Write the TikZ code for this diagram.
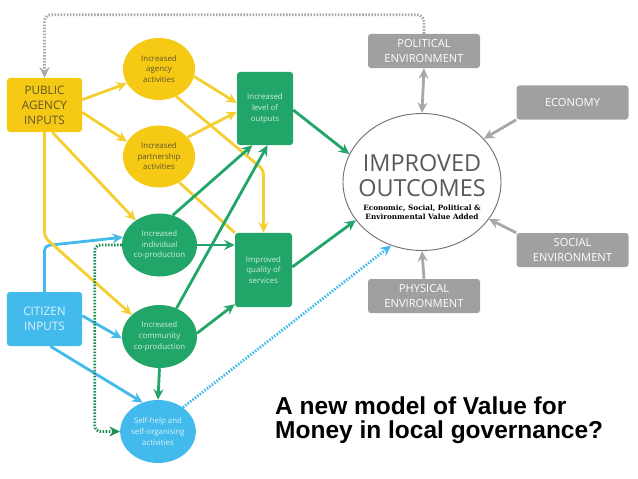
\documentclass[tikz,border=0pt]{standalone}
\usepackage{fontspec}
\setmainfont{Open Sans}
\newfontfamily\titlefont{Liberation Sans}
\newfontfamily\notefont{DejaVu Serif}
\usetikzlibrary{arrows.meta,calc,shapes.geometric}

\definecolor{pubyellow}{RGB}{246,201,20}
\definecolor{linkyellow}{RGB}{245,207,50}
\definecolor{pubtext}{RGB}{95,85,45}
\definecolor{outgreen}{RGB}{34,165,105}
\definecolor{dotgreen}{RGB}{30,140,85}
\definecolor{paletext}{RGB}{205,238,220}
\definecolor{citblue}{RGB}{66,186,235}
\definecolor{citext}{RGB}{220,242,250}
\definecolor{envgray}{RGB}{160,160,160}
\definecolor{linkgray}{RGB}{168,168,168}

\begin{document}
\begin{tikzpicture}[x=0.03cm, y=-0.03cm,
    every node/.style={inner sep=0pt, align=center},
    >={Stealth[length=9pt, width=8.5pt, inset=3pt]},
    inbox/.style={rectangle, rounded corners=2.5pt, minimum width=2.25cm, minimum height=1.62cm, font=\fontsize{10}{12.8}\selectfont},
    actnode/.style={ellipse, minimum width=2.16cm, minimum height=1.86cm, font=\fontsize{6.7}{9}\selectfont},
    resbox/.style={rectangle, rounded corners=2.5pt, fill=outgreen, text=paletext, minimum width=1.68cm, minimum height=2.19cm, font=\fontsize{6.7}{9}\selectfont},
    envbox/.style={rectangle, rounded corners=2.5pt, fill=envgray, text=white, minimum width=3.36cm, minimum height=1.02cm, font=\fontsize{9.5}{12.8}\selectfont},
    ylink/.style={draw=linkyellow, line width=2.4pt, ->},
    glink/.style={draw=outgreen, line width=2.4pt, ->},
    blink/.style={draw=citblue, line width=2.4pt, ->},
    envlink/.style={draw=linkgray, line width=2.4pt, ->},
    dotline/.style={dash pattern=on 1.3pt off 1.3pt}]

    % 画布
    \fill[white] (0,0) rectangle (638,479);
    \useasboundingbox (0,0) rectangle (638,479);

    % 输入
    \node[inbox, fill=pubyellow, text=pubtext] (public) at (44.5,105) {PUBLIC\\AGENCY\\INPUTS};
    \node[inbox, fill=citblue, text=citext] (citizen) at (44.5,319) {CITIZEN\\INPUTS};

    % 活动
    \node[actnode, fill=pubyellow, text=pubtext] (agency) at (159,69) {Increased\\agency\\activities};
    \node[actnode, fill=pubyellow, text=pubtext] (partner) at (159,156.5) {Increased\\partnership\\activities};
    \node[actnode, fill=outgreen, text=paletext, minimum width=2.25cm, minimum height=1.89cm] (individual) at (159.5,245) {Increased\\individual\\co-production};
    \node[actnode, fill=outgreen, text=paletext, minimum width=2.25cm, minimum height=1.89cm] (community) at (159.5,336.5) {Increased\\community\\co-production};
    \node[actnode, fill=citblue, text=citext, minimum width=2.1cm, minimum height=1.89cm] (selfhelp) at (158,431.5) {Self-help and\\self-organising\\activities};

    % 产出
    \node[resbox] (outputs) at (265,108.5) {Increased\\level of\\outputs};
    \node[resbox, minimum width=1.71cm, minimum height=2.22cm] (services) at (263.5,270) {Improved\\quality of\\services};

    % 结果
    \node[ellipse, draw=black!55, line width=0.8pt, minimum width=4.74cm, minimum height=4.11cm] (outcomes) at (422,182) {};
    \node[text=black!65, font=\fontsize{20}{21.3}\selectfont] (outtitle) at (422,176) {IMPROVED\\OUTCOMES};
    \node[font=\notefont\bfseries\fontsize{6.2}{7.7}\selectfont] (outnote) at (422,212) {Economic, Social, Political \&\\Environmental Value Added};

    % 环境
    \node[envbox] (political) at (424,51) {POLITICAL\\ENVIRONMENT};
    \node[envbox] (economy) at (572.5,102.5) {ECONOMY};
    \node[envbox] (social) at (572.5,250) {SOCIAL\\ENVIRONMENT};
    \node[envbox] (physical) at (424,296) {PHYSICAL\\ENVIRONMENT};

    % 蓝色连线
    \draw[blink, rounded corners=4pt] (citizen.north) -- ++(0,-46) -- (individual.168);
    \draw[blink] (citizen.5) -- (community.183);
    \draw[blink] (citizen.-78) -- (selfhelp.118);
    \draw[blink, dotline] (selfhelp.44) -- (outcomes.244);

    % 黄色连线
    \draw[ylink] (public.8) -- (agency.204);
    \draw[ylink] (public.-11) -- (partner.155);
    \draw[ylink] (public.-74) -- (individual.134);
    \draw[ylink, rounded corners=4pt] (public.south) -- ++(0,105) -- (community.142);
    \draw[ylink] (agency.-12) -- (outputs.169);
    \draw[ylink] (partner.34) -- (outputs.187);
    \draw[ylink, rounded corners=4pt] (agency.-58) -- ($(services.north)+(0,-63)$) -- (services.north);
    \draw[ylink, -] (partner.-52) -- (services.north west);

    % 绿色连线
    \draw[glink] (individual.66) -- (outputs.251);
    \draw[glink] (community.59) -- (outputs.274);
    \draw[glink] (individual.east) -- (individual.east -| services.west);
    \draw[glink] (community.5) -- (services.230);
    \draw[glink] (community.south) -- (selfhelp.north);
    \draw[glink] (outputs.-3) -- (outcomes.159);
    \draw[glink] (services.6) -- (outcomes.210);
    \draw[glink, draw=dotgreen, dotline, rounded corners=5pt] (individual.west) -- ++(-27,0) |- (selfhelp.west);

    % 灰色连线
    \draw[envlink, <->] (political.south) -- (outcomes.north);
    \draw[envlink] (economy.south west) -- (outcomes.35);
    \draw[envlink] (social.north west) -- (outcomes.-29);
    \draw[envlink] (physical.north) -- (outcomes.south);
    \draw[envlink, dotline, rounded corners=6pt] (political.north) -- ++(0,-19) -| (public.north);

    % 标题
    \node[anchor=west, font=\titlefont\bfseries\fontsize{20.9}{20.5}\selectfont, align=left] (title) at (275,420) {A new model of Value for\\Money in local governance?};

\end{tikzpicture}
\end{document}
